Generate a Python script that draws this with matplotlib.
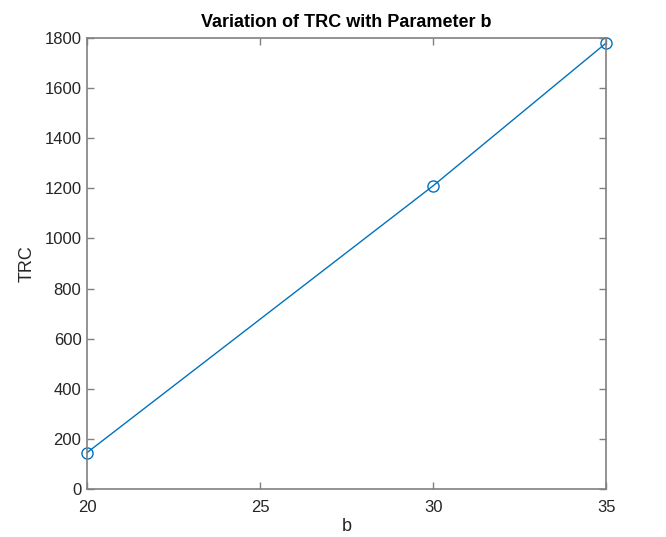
import matplotlib
matplotlib.use("Agg")
import matplotlib.pyplot as plt

# values
b_values = [20, 30, 35]
trc_values = [145, 1210, 1780]
x_ticks = [20, 25, 30, 35]
y_ticks = [0, 200, 400, 600, 800, 1000, 1200, 1400, 1600, 1800]

plt.rcParams["font.family"] = ["Liberation Sans", "DejaVu Sans"]

fig = plt.figure(figsize=(6.66, 5.37), dpi=100)
ax = fig.add_axes([0.1306, 0.0894, 0.7795, 0.8398])

ax.plot(b_values, trc_values, color="#0072BD", linewidth=1.0,
        marker="o", markersize=8, markerfacecolor="none",
        markeredgecolor="#0072BD", markeredgewidth=1.0, clip_on=False)

ax.set_xlim(20, 35)
ax.set_ylim(0, 1800)
ax.set_xticks(x_ticks)
ax.set_yticks(y_ticks)

axis_gray = "#262626"
for side in ax.spines.values():
    side.set_color("#808080")
    side.set_linewidth(1.2)
ax.tick_params(direction="in", length=5, width=1, colors="#808080",
               labelcolor=axis_gray, labelsize=12, top=True, right=True)
ax.tick_params(axis="x", pad=8)
ax.tick_params(axis="y", pad=4)

ax.set_xlabel("b", fontsize=13, color=axis_gray, labelpad=2)
ax.set_ylabel("TRC", fontsize=13, color=axis_gray, labelpad=6)
ax.set_title("Variation of TRC with Parameter b", fontsize=13,
             fontweight="bold", color="black", pad=8)

fig.savefig("out.png", dpi=100)
